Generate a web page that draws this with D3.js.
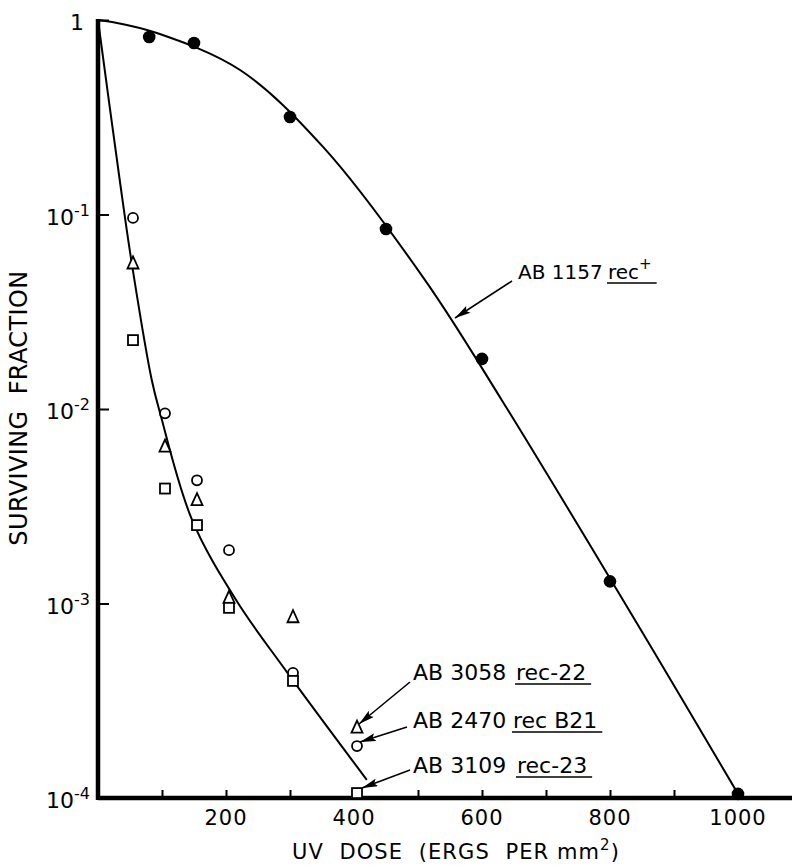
<!DOCTYPE html>
<html>
<head>
<meta charset="utf-8">
<script src="https://cdn.jsdelivr.net/npm/d3@7"></script>
<style>
  body { margin: 0; background: #fff; }
  text { font-family: "DejaVu Sans", "Liberation Sans", sans-serif; fill: #000; }
</style>
</head>
<body>
<svg id="chart" width="792" height="865"></svg>
<script>
// axis ticks
const xTicks = [100, 200, 300, 400, 500, 600, 700, 800, 900, 1000];
const xTickLabels = [200, 400, 600, 800, 1000];
const yTicks = [1, 1e-1, 1e-2, 1e-3, 1e-4];
const yTickExp = [0, -1, -2, -3, -4];

// AB1157 rec+ (filled circles)
const recPlusDose = [80, 150, 300, 450, 600, 800, 1000];
const recPlusSurv = [0.818, 0.762, 0.317, 0.0842, 0.0181, 0.0013, 0.000105];

// AB3058 rec-22 (triangles)
const rec22Dose = [50, 100, 150, 200, 300, 400];
const rec22Surv = [0.056, 0.0064, 0.0034, 0.00107, 0.00085, 0.00023];

// AB2470 recB21 (open circles)
const recB21Dose = [50, 100, 150, 200, 300, 400];
const recB21Surv = [0.096, 0.0095, 0.0043, 0.00188, 0.00044, 0.000185];

// AB3109 rec-23 (squares)
const rec23Dose = [50, 100, 150, 200, 300, 400];
const rec23Surv = [0.0226, 0.0039, 0.00253, 0.00095, 0.0004, 0.000106];

// hand drawn curves
const recPlusCurveDose = [0, 22, 92, 222, 352, 511, 631, 867, 1000];
const recPlusCurveSurv = [1, 0.977, 0.857, 0.553, 0.222, 0.046, 0.0111, 0.000577, 0.000105];
const recMinusCurveDose = [0, 34, 52, 84, 97, 147, 216, 295, 420];
const recMinusCurveSurv = [1, 0.150, 0.0583, 0.0141, 0.00953, 0.00269, 0.00104, 0.000445, 0.000124];

const svg = d3.select("#chart");

const x = d3.scaleLinear().domain([0, 1000]).range([98, 738]);
const y = d3.scaleLog().domain([1e-4, 1]).range([798, 20]);

const zip = (a, b) => a.map((d, i) => [d, b[i]]);

// x axis with inward ticks
const xAxis = svg.append("g")
    .attr("transform", `translate(0,${y(1e-4)})`)
    .call(d3.axisBottom(x).tickValues(xTicks).tickSize(-8).tickSizeOuter(0).tickFormat(""));
xAxis.select(".domain").remove();
xAxis.selectAll(".tick line").attr("stroke", "#000").attr("stroke-width", 2);

// y axis with inward ticks
const yAxis = svg.append("g")
    .attr("transform", `translate(${x(0)},0)`)
    .call(d3.axisLeft(y).tickValues(yTicks).tickSize(-11).tickSizeOuter(0).tickFormat(""));
yAxis.select(".domain").remove();
yAxis.selectAll(".tick line").attr("stroke", "#000").attr("stroke-width", 2);

// heavy axis lines
svg.append("line")
    .attr("x1", x(0)).attr("x2", x(1090))
    .attr("y1", y(1e-4)).attr("y2", y(1e-4))
    .attr("stroke", "#000").attr("stroke-width", 4.5);
svg.append("line")
    .attr("x1", x(0)).attr("x2", x(0))
    .attr("y1", y(1e-4) + 2).attr("y2", y(1) - 1)
    .attr("stroke", "#000").attr("stroke-width", 4.5);

// x tick labels
svg.append("g").selectAll("text")
    .data(xTickLabels)
    .join("text")
    .attr("x", d => x(d))
    .attr("y", 825)
    .attr("text-anchor", "middle")
    .attr("font-size", 21)
    .attr("letter-spacing", 1)
    .text(d => d);

// y tick labels, 10 with superscript exponent
const yLab = svg.append("g").selectAll("text")
    .data(yTicks.map((d, i) => ({ v: d, e: yTickExp[i] })))
    .join("text")
    .attr("x", d => d.e === 0 ? 84 : 90)
    .attr("y", d => y(d.v) + 10)
    .attr("text-anchor", "end")
    .attr("font-size", 22);
yLab.each(function(d) {
    const t = d3.select(this);
    if (d.e === 0) { t.text("1"); return; }
    t.append("tspan").text("10");
    t.append("tspan").attr("dy", -9).attr("font-size", 16).text(d.e);
});

// axis titles
svg.append("text")
    .attr("x", 456).attr("y", 859)
    .attr("text-anchor", "middle")
    .attr("font-size", 21)
    .attr("letter-spacing", 1.1)
    .style("white-space", "pre")
    .call(t => {
        t.append("tspan").text("UV  DOSE  (ERGS  PER mm");
        t.append("tspan").attr("dy", -9).attr("font-size", 15).text("2");
        t.append("tspan").attr("dy", 9).text(")");
    });

svg.append("text")
    .attr("transform", "translate(27,408) rotate(-90)")
    .attr("text-anchor", "middle")
    .attr("font-size", 24)
    .attr("letter-spacing", 0.4)
    .style("white-space", "pre")
    .text("SURVIVING  FRACTION");

// curves
const line = d3.line()
    .x(d => x(d[0]))
    .y(d => y(d[1]))
    .curve(d3.curveCatmullRom.alpha(0.5));

svg.append("path")
    .attr("d", line(zip(recPlusCurveDose, recPlusCurveSurv)))
    .attr("fill", "none").attr("stroke", "#000").attr("stroke-width", 2);
svg.append("path")
    .attr("d", line(zip(recMinusCurveDose, recMinusCurveSurv)))
    .attr("fill", "none").attr("stroke", "#000").attr("stroke-width", 2);

// points
svg.append("g").selectAll("circle")
    .data(zip(recPlusDose, recPlusSurv))
    .join("circle")
    .attr("cx", d => x(d[0])).attr("cy", d => y(d[1]))
    .attr("r", 6.3).attr("fill", "#000");

svg.append("g").selectAll("circle")
    .data(zip(recB21Dose, recB21Surv))
    .join("circle")
    .attr("cx", d => x(d[0]) + 3).attr("cy", d => y(d[1]))
    .attr("r", 5).attr("fill", "#fff").attr("stroke", "#000").attr("stroke-width", 1.8);

svg.append("g").selectAll("path")
    .data(zip(rec22Dose, rec22Surv))
    .join("path")
    .attr("transform", d => `translate(${x(d[0]) + 3},${y(d[1])})`)
    .attr("d", "M0,-7L5.5,5L-5.5,5Z")
    .attr("fill", "#fff").attr("stroke", "#000").attr("stroke-width", 1.8);

svg.append("g").selectAll("rect")
    .data(zip(rec23Dose, rec23Surv))
    .join("rect")
    .attr("x", d => x(d[0]) + 3 - 5).attr("y", d => y(d[1]) - 5)
    .attr("width", 10).attr("height", 10)
    .attr("fill", "#fff").attr("stroke", "#000").attr("stroke-width", 1.8);

// arrowhead
svg.append("defs").append("marker")
    .attr("id", "arrow")
    .attr("markerUnits", "userSpaceOnUse")
    .attr("viewBox", "0 0 16 8")
    .attr("refX", 16).attr("refY", 4)
    .attr("markerWidth", 16).attr("markerHeight", 8)
    .attr("orient", "auto")
    .append("path").attr("d", "M0,0L16,4L0,8L3,4Z").attr("fill", "#000");

// strain labels with arrows
const notes = [
    { tx: 518, recX: 608, ty: 279, size: 20, name: "AB 1157", rec: "rec", sup: "+", from: [512, 281], to: [455, 318] },
    { tx: 413, recX: 516, ty: 680, size: 22, name: "AB 3058", rec: "rec-22", from: [410, 682], to: [359, 724] },
    { tx: 413, recX: 513, ty: 728, size: 22, name: "AB 2470", rec: "rec B21", from: [407, 727], to: [360, 742] },
    { tx: 413, recX: 517, ty: 773, size: 22, name: "AB 3109", rec: "rec-23", from: [410, 770], to: [362, 788] }
];

notes.forEach(n => {
    svg.append("text")
        .attr("x", n.tx).attr("y", n.ty)
        .attr("font-size", n.size)
        .text(n.name);
    const r = svg.append("text")
        .attr("x", n.recX).attr("y", n.ty)
        .attr("font-size", n.size)
        .text(n.rec);
    if (n.sup) r.append("tspan").attr("dy", -10).attr("font-size", 15).text(n.sup);
    const w = r.node().getComputedTextLength();
    svg.append("line")
        .attr("x1", n.recX - 1).attr("x2", n.recX + w + 5)
        .attr("y1", n.ty + 4).attr("y2", n.ty + 4)
        .attr("stroke", "#000").attr("stroke-width", 1.6);
    svg.append("line")
        .attr("x1", n.from[0]).attr("y1", n.from[1])
        .attr("x2", n.to[0]).attr("y2", n.to[1])
        .attr("stroke", "#000").attr("stroke-width", 1.6)
        .attr("marker-end", "url(#arrow)");
});
</script>
</body>
</html>
